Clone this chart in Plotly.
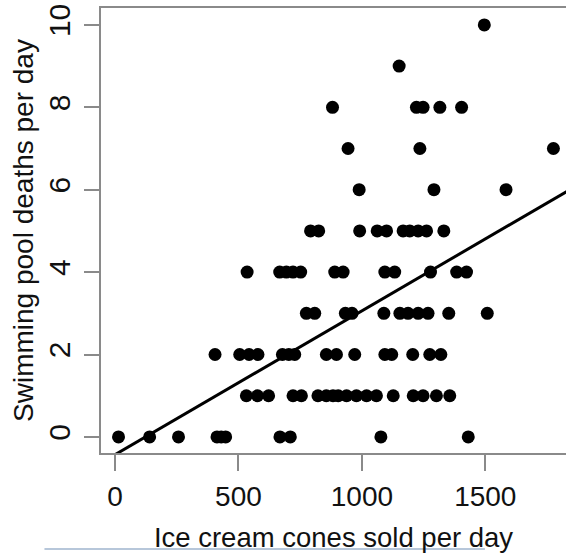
import plotly.graph_objects as go

# Data
cones_sold = [
    14, 140, 257, 413, 430, 448, 668, 710, 1077, 1431,
    532, 577, 622, 721, 755, 822, 856, 883, 904, 938, 978, 1019, 1059, 1127, 1208, 1248, 1302, 1356,
    405, 505, 543, 579, 678, 704, 728, 856, 897, 971, 1093, 1121, 1206, 1275, 1320,
    775, 809, 933, 960, 1089, 1154, 1187, 1228, 1268, 1352, 1508,
    535, 667, 694, 721, 752, 890, 924, 1093, 1133, 1278, 1384, 1424,
    792, 825, 991, 1062, 1100, 1167, 1194, 1228, 1262, 1332,
    989, 1292, 1584,
    944, 1235, 1776,
    881, 1221, 1248, 1316, 1404,
    1151,
    1496,
]
pool_deaths = (
    [0] * 10 + [1] * 18 + [2] * 15 + [3] * 11 + [4] * 12 + [5] * 10
    + [6] * 3 + [7] * 3 + [8] * 5 + [9] * 1 + [10] * 1
)

fit_intercept = -0.43
fit_slope = 0.00349
line_x = [-100, 2000]
line_y = [fit_intercept + fit_slope * v for v in line_x]

x_ticks = [0, 500, 1000, 1500]
y_ticks = [0, 2, 4, 6, 8, 10]

FONT = "Liberation Sans, Arial, sans-serif"
AX = "#8a8a8a"

fig = go.Figure()
fig.add_trace(go.Scatter(
    x=cones_sold, y=pool_deaths, mode="markers",
    marker=dict(size=13, color="black", line=dict(width=0)),
    showlegend=False, hoverinfo="skip",
))
fig.add_trace(go.Scatter(
    x=line_x, y=line_y, mode="lines",
    line=dict(color="black", width=3),
    showlegend=False, hoverinfo="skip",
))

fig.update_layout(
    width=566, height=553,
    margin=dict(l=101, r=0, t=8, b=100),
    paper_bgcolor="white", plot_bgcolor="white",
    font=dict(family=FONT, size=26, color="#111111"),
    xaxis=dict(
        range=[-57, 1827], tickvals=x_ticks, ticktext=[str(v) for v in x_ticks],
        showline=True, linecolor=AX, linewidth=1.5, mirror=True,
        ticks="outside", ticklen=16, tickcolor=AX, tickwidth=1.5,
        showgrid=False, zeroline=False,
        tickfont=dict(size=28),
        ticklabelstandoff=2,
        title=dict(text="Ice cream cones sold per day",
                   font=dict(size=27.5), standoff=16),
    ),
    yaxis=dict(
        range=[-0.39, 10.41], tickvals=y_ticks, ticktext=[str(v) for v in y_ticks],
        showline=True, linecolor=AX, linewidth=1.5, mirror=False,
        ticks="outside", ticklen=15, tickcolor=AX, tickwidth=1.5,
        tickangle=-90,
        showgrid=False, zeroline=False,
        tickfont=dict(size=30),
        ticklabelstandoff=2,
        title=dict(text="Swimming pool deaths per day",
                   font=dict(size=28), standoff=1),
    ),
    shapes=[dict(
        type="line", xref="paper", yref="paper",
        x0=-0.1216, x1=0.8256, y0=-0.2157, y1=-0.2157,
        line=dict(color="#b7c7da", width=2),
    )],
)

fig.write_html("out.html")
